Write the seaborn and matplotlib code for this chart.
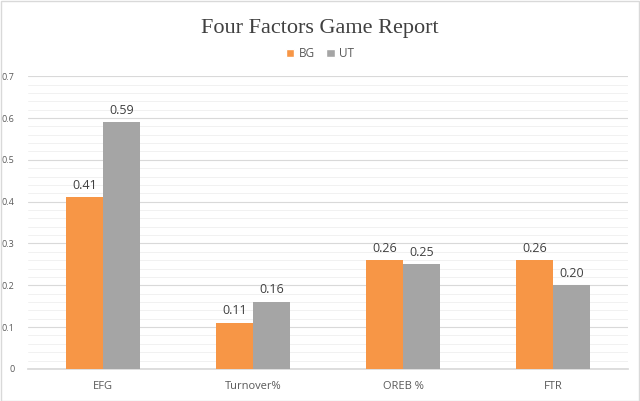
import matplotlib
matplotlib.use("Agg")
import matplotlib.pyplot as plt
import seaborn as sns
import pandas as pd
import numpy as np
from matplotlib.ticker import MultipleLocator
from matplotlib.patches import Patch

categories = ["EFG", "Turnover%", "OREB %", "FTR"]
bg_values = [0.41, 0.11, 0.26, 0.26]
ut_values = [0.59, 0.16, 0.25, 0.20]
series = ["BG", "UT"]
yticks = [0, 0.1, 0.2, 0.3, 0.4, 0.5, 0.6, 0.7]

df = pd.DataFrame({
    "Factor": categories * 2,
    "Team": [series[0]] * 4 + [series[1]] * 4,
    "Value": bg_values + ut_values,
})

sns.set_theme(style="white")
plt.rcParams['font.family'] = ['Open Sans', 'DejaVu Sans']

fig = plt.figure(figsize=(6.4, 4.01), dpi=100)
ax = fig.add_axes([0.044, 0.080, 0.937, 0.730])

palette = {"BG": "#F79646", "UT": "#A5A5A5"}
sns.barplot(data=df, x="Factor", y="Value", hue="Team", order=categories,
            hue_order=series, palette=palette, width=0.49, saturation=1,
            ax=ax, legend=False, zorder=3, linewidth=0)

ax.set_ylim(0, 0.7)
ax.set_xlim(-0.5, 3.5)
ax.set_yticks(yticks)
ax.set_yticklabels([("%g" % t) for t in yticks], fontsize=6.5, color="#595959")
ax.yaxis.set_minor_locator(MultipleLocator(0.02))
ax.grid(axis="y", which="major", color="#D9D9D9", linewidth=0.8, zorder=0)
ax.grid(axis="y", which="minor", color="#EFEFEF", linewidth=0.6, zorder=0)
ax.tick_params(axis="y", length=0, pad=10)
ax.tick_params(axis="x", length=0, pad=9, labelsize=8, labelcolor="#595959")
for s in ["top", "right", "left"]:
    ax.spines[s].set_visible(False)
ax.spines["bottom"].set_color("#D9D9D9")
ax.set_xlabel("")
ax.set_ylabel("")

for cont in ax.containers:
    ax.bar_label(cont, fmt="%.2f", padding=4, fontsize=9, color="#404040")

fig.text(0.5, 0.930, "Four Factors Game Report", ha="center", va="center",
         fontsize=16, color="#404040", family=["Liberation Serif", "DejaVu Serif"])

handles = [Patch(facecolor=palette[s], label=s) for s in series]
fig.legend(handles=handles, loc="center", bbox_to_anchor=(0.5, 0.866), ncol=2,
           frameon=False, fontsize=8.5, handlelength=0.7, handleheight=0.7,
           handletextpad=0.4, columnspacing=1.0, labelcolor="#595959")

border = plt.Rectangle((0.001, 0.001), 0.997, 0.997, transform=fig.transFigure,
                       fill=False, edgecolor="#D9D9D9", linewidth=1)
fig.add_artist(border)

fig.savefig("out.png", dpi=100)
